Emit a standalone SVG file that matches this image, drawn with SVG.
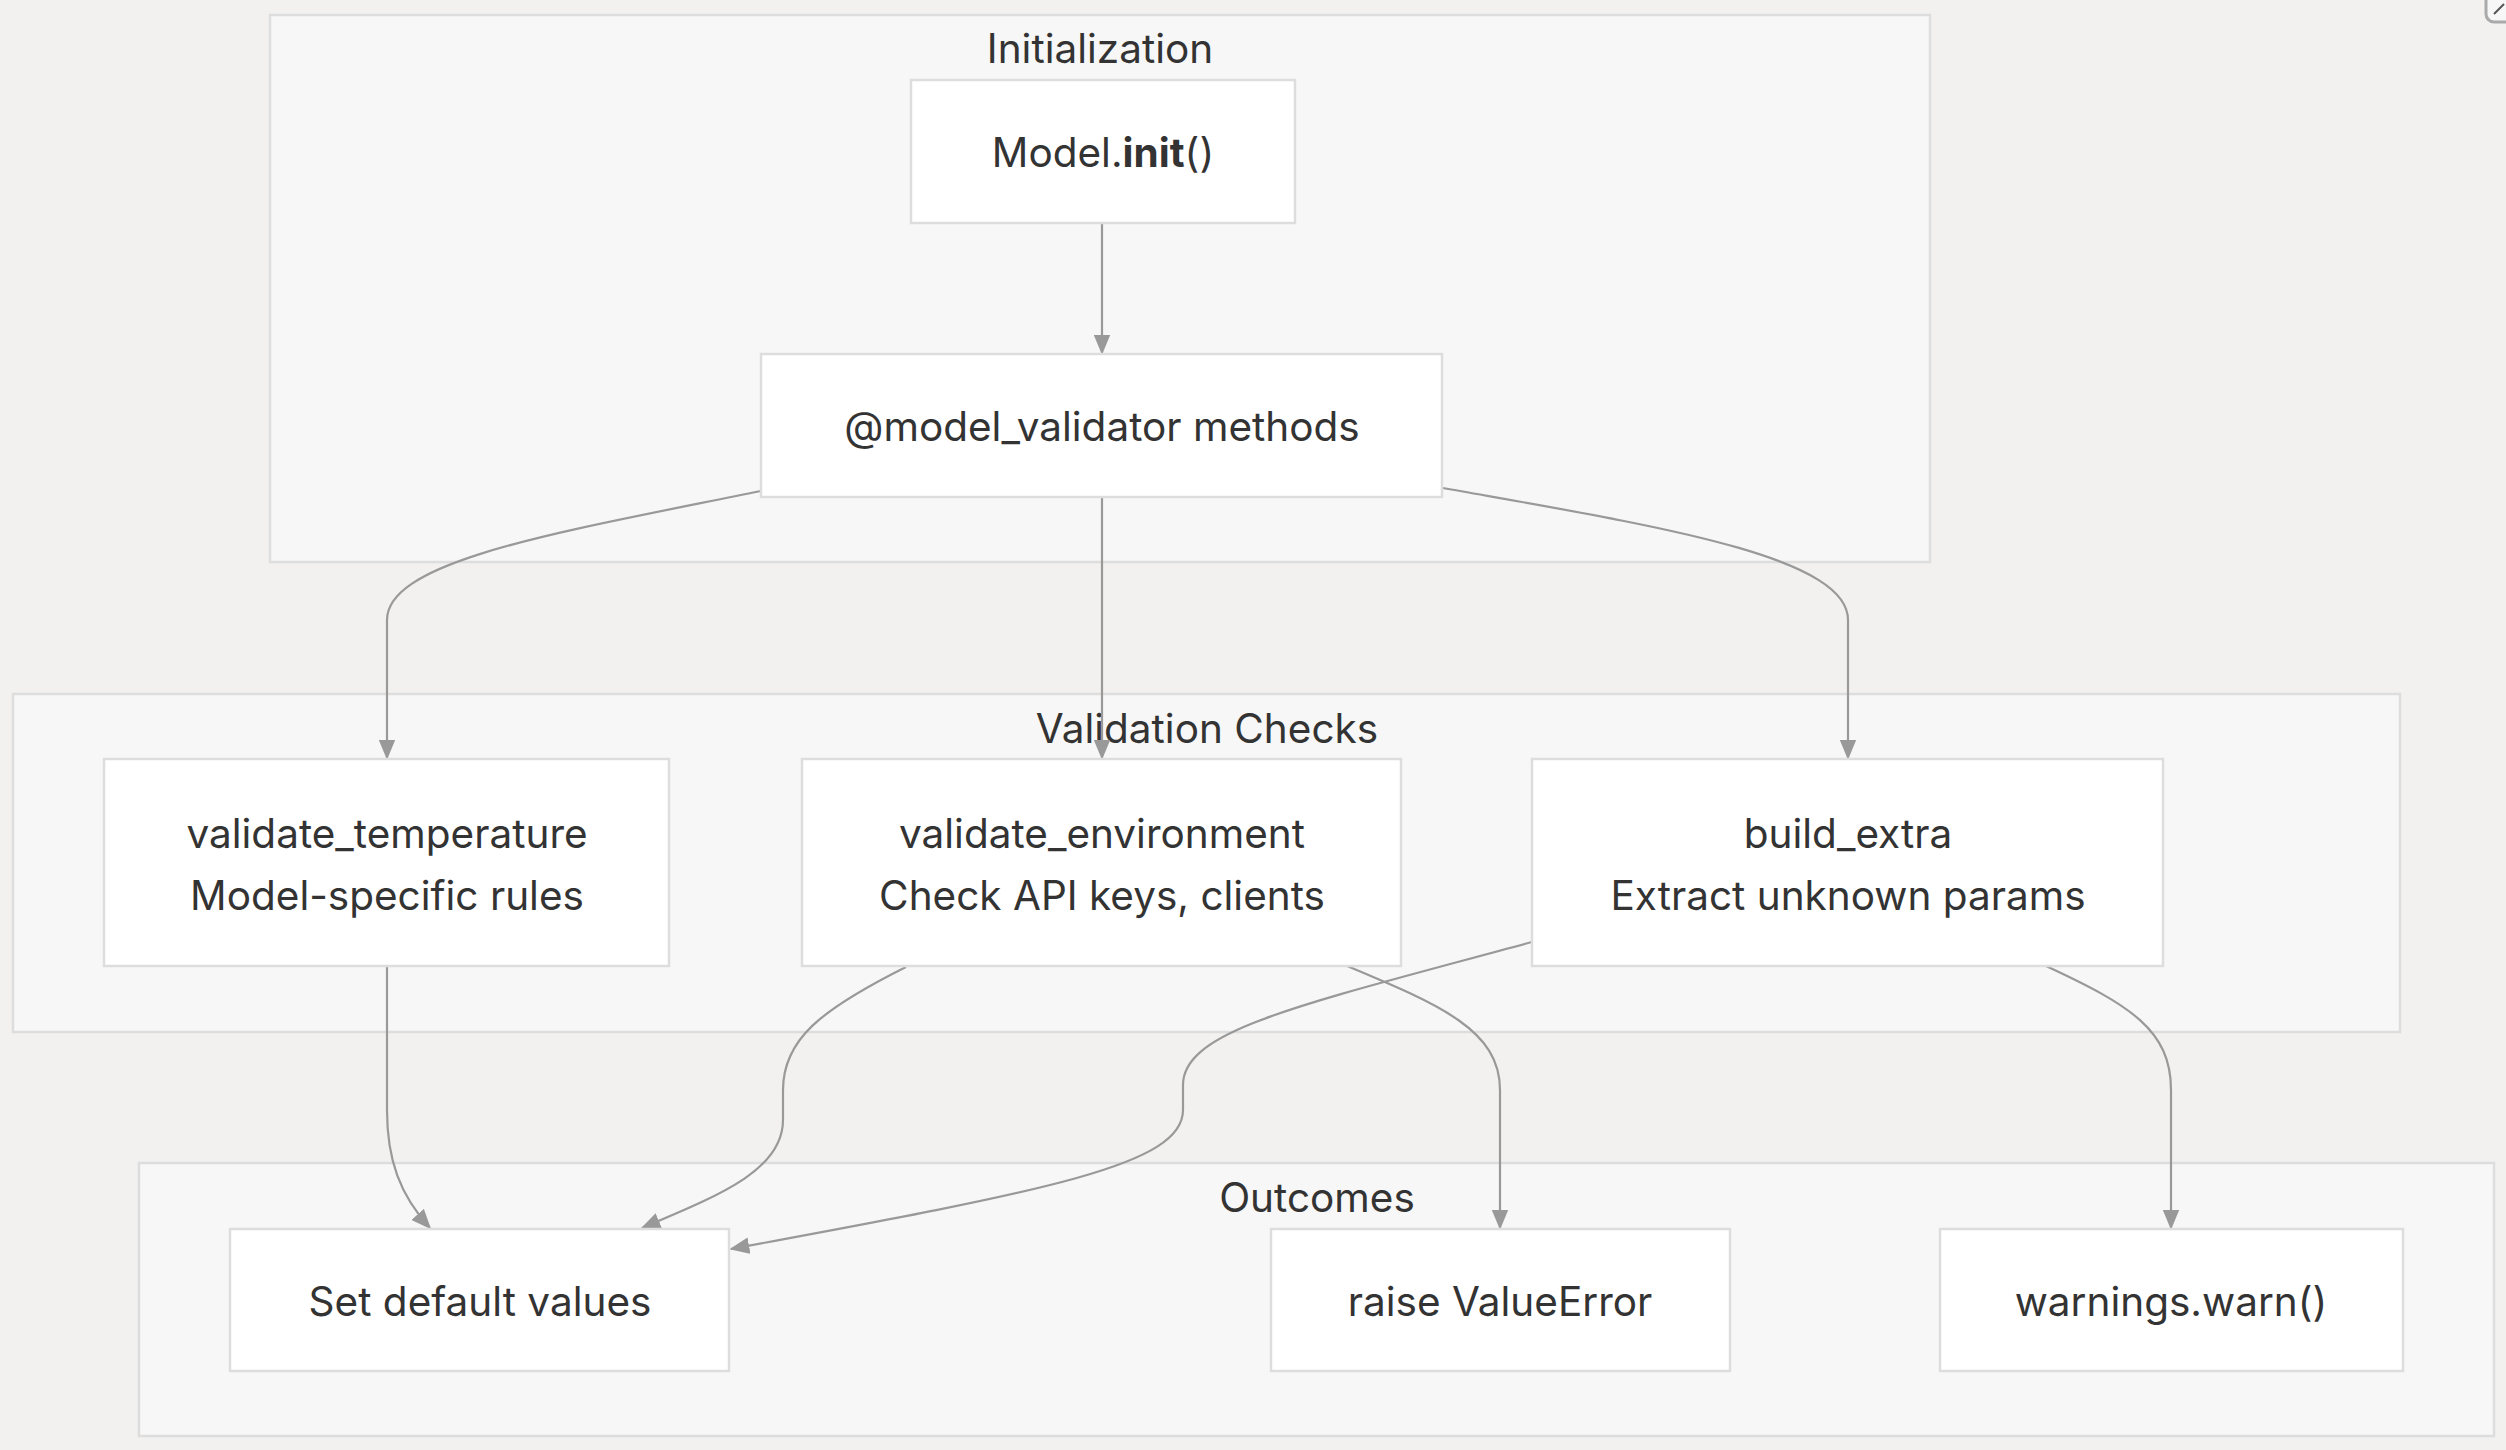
<svg xmlns="http://www.w3.org/2000/svg" width="2506" height="1450" viewBox="0 0 2506 1450">
<defs>
<style>
.cl{fill:#f7f7f7;stroke:#dddddd;stroke-width:2.5}
.nd{fill:#ffffff;stroke:#dddddd;stroke-width:2.5}
.t{font-family:Inter,"Noto Sans","Liberation Sans",sans-serif;font-size:40.5px;fill:#333333;text-anchor:middle;dominant-baseline:central}
.e{fill:none;stroke:#999999;stroke-width:2.2}
</style>
<marker id="a" viewBox="0 0 12 10" refX="11" refY="5" markerWidth="20" markerHeight="17" markerUnits="userSpaceOnUse" orient="auto">
<path d="M0,0 L12,5 L0,10 z" fill="#999999"/>
</marker>
</defs>
<rect width="2506" height="1450" fill="#f2f1f0"/>
<g id="cluster-init"><rect class="cl" x="270" y="15" width="1660" height="547"/><text class="t" x="1100" y="48">Initialization</text></g>
<g id="cluster-checks"><rect class="cl" x="13" y="694" width="2387" height="338"/><text class="t" x="1207" y="728">Validation Checks</text></g>
<g id="cluster-outcomes"><rect class="cl" x="139" y="1163" width="2355" height="273"/><text class="t" x="1317" y="1197">Outcomes</text></g>
<g id="edges">
<path class="e" marker-end="url(#a)" d="M1102,223 L1102,353"/>
<path class="e" marker-end="url(#a)" d="M761,491 C560,532 387,560 387,620 L387,758"/>
<path class="e" marker-end="url(#a)" d="M1102,497 L1102,758"/>
<path class="e" marker-end="url(#a)" d="M1443,488 C1650,525 1848,555 1848,620 L1848,758"/>
<path class="e" marker-end="url(#a)" d="M387,966 L387,1110 C387,1160 400,1195 430,1228"/>
<path class="e" marker-end="url(#a)" d="M906,967 C820,1010 783,1040 783,1090 L783,1120 C783,1170 720,1195 642,1228"/>
<path class="e" marker-end="url(#a)" d="M1347,966 C1440,1005 1500,1030 1500,1090 L1500,1228"/>
<path class="e" marker-end="url(#a)" d="M1532,942 C1300,1005 1183,1030 1183,1085 L1183,1110 C1183,1165 1050,1190 731,1249"/>
<path class="e" marker-end="url(#a)" d="M2046,966 C2130,1005 2171,1030 2171,1090 L2171,1228"/>
</g>
<g id="n-init"><rect class="nd" x="911" y="80" width="384" height="143"/><text class="t" x="1103" y="152">Model.<tspan font-weight="bold">init</tspan>()</text></g>
<g id="n-validator"><rect class="nd" x="761" y="354" width="681" height="143"/><text class="t" x="1102" y="426">@model_validator methods</text></g>
<g id="n-temp"><rect class="nd" x="104" y="759" width="565" height="207"/><text class="t" x="387" y="833">validate_temperature</text><text class="t" x="387" y="895">Model-specific rules</text></g>
<g id="n-env"><rect class="nd" x="802" y="759" width="599" height="207"/><text class="t" x="1102" y="833">validate_environment</text><text class="t" x="1102" y="895">Check API keys, clients</text></g>
<g id="n-extra"><rect class="nd" x="1532" y="759" width="631" height="207"/><text class="t" x="1848" y="833">build_extra</text><text class="t" x="1848" y="895">Extract unknown params</text></g>
<g id="n-default"><rect class="nd" x="230" y="1229" width="499" height="142"/><text class="t" x="480" y="1301">Set default values</text></g>
<g id="n-error"><rect class="nd" x="1271" y="1229" width="459" height="142"/><text class="t" x="1500" y="1301">raise ValueError</text></g>
<g id="n-warn"><rect class="nd" x="1940" y="1229" width="463" height="142"/><text class="t" x="2171" y="1301">warnings.warn()</text></g>
<g id="corner"><rect x="2486" y="-12" width="30" height="34" rx="8" fill="#f7f7f7" stroke="#aaaaaa" stroke-width="3"/><path d="M2494,14 L2504,4" stroke="#555" stroke-width="2"/></g>
</svg>
